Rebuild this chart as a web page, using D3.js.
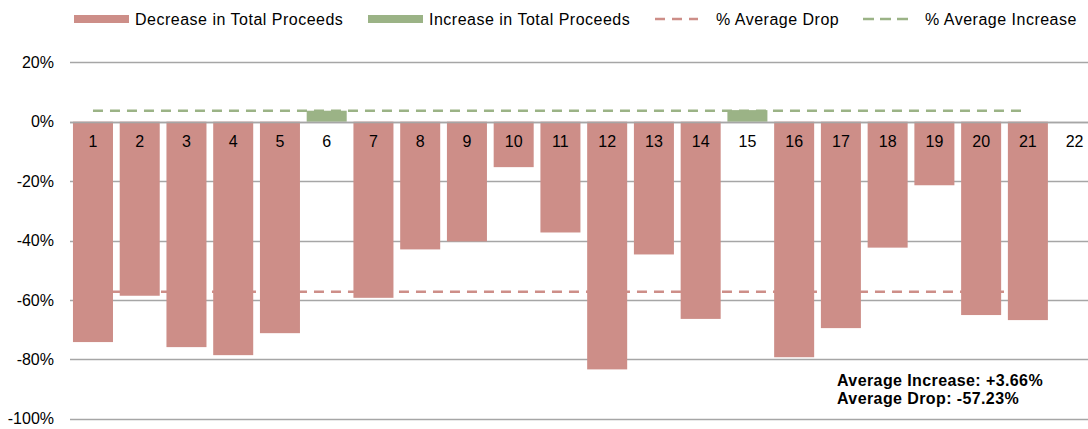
<!DOCTYPE html>
<html>
<head>
<meta charset="utf-8">
<script src="https://cdn.jsdelivr.net/npm/d3@7"></script>
<style>
  body { margin: 0; background: #fff; }
  text { font-family: "Liberation Sans", Arial, sans-serif; fill: #000; }
</style>
</head>
<body>
<script>
// chart values
var categories = ["1","2","3","4","5","6","7","8","9","10","11","12","13","14","15","16","17","18","19","20","21","22"];
var changes = [-74.2, -58.6, -75.9, -78.6, -71.2, 3.7, -59.3, -43.0, -40.3, -15.3, -37.3, -83.4, -44.7, -66.4, 3.9, -79.3, -69.5, -42.4, -21.4, -65.1, -66.8, 0];
var avgIncrease = 3.66;
var avgDrop = -57.23;
var yTicks = [20, 0, -20, -40, -60, -80, -100];
var legendItems = ["Decrease in Total Proceeds", "Increase in Total Proceeds", "% Average Drop", "% Average Increase"];

var width = 1088,
    height = 429;

var red = "#cd8e88",
    green = "#9bb386";

var svg = d3.select("body")
    .append("svg")
    .attr("width", width)
    .attr("height", height);

// x band scale - the plot runs a bit past the right edge of the picture
var x = d3.scaleBand()
    .domain(categories)
    .range([69.6, 1098])
    .paddingInner(0.144)
    .paddingOuter(0.072);

var y = d3.scaleLinear()
    .domain([-100, 20])
    .range([418.7, 62.3]);

// gridlines
svg.append("g")
    .selectAll("line")
    .data(yTicks)
    .enter().append("line")
    .attr("x1", 70)
    .attr("x2", width)
    .attr("y1", function(d) { return Math.round(y(d)) + 0.5; })
    .attr("y2", function(d) { return Math.round(y(d)) + 0.5; })
    .attr("stroke", "#a6a6a6")
    .attr("stroke-width", 1.3);

// average drop line sits behind the bars
var lineX1 = x(categories[0]) + x.bandwidth() / 2,
    lineX2 = x(categories[20]) + x.bandwidth() / 2;

svg.append("line")
    .attr("x1", lineX1).attr("x2", lineX2)
    .attr("y1", y(avgDrop)).attr("y2", y(avgDrop))
    .attr("stroke", red)
    .attr("stroke-width", 2.5)
    .attr("stroke-dasharray", "10,7");

// y tick labels
svg.append("g")
    .selectAll("text")
    .data(yTicks)
    .enter().append("text")
    .attr("x", 54)
    .attr("y", function(d) { return y(d); })
    .attr("dy", "0.35em")
    .attr("text-anchor", "end")
    .style("font-size", "16px")
    .text(function(d) { return d + "%"; });

// bars
svg.append("g")
    .selectAll("rect")
    .data(changes)
    .enter().append("rect")
    .attr("x", function(d, i) { return x(categories[i]); })
    .attr("width", x.bandwidth())
    .attr("y", function(d) { return y(Math.max(0, d)); })
    .attr("height", function(d) { return Math.abs(y(d) - y(0)); })
    .attr("fill", function(d) { return d < 0 ? red : green; });

svg.append("line")
    .attr("x1", lineX1).attr("x2", lineX2)
    .attr("y1", y(avgIncrease)).attr("y2", y(avgIncrease))
    .attr("stroke", green)
    .attr("stroke-width", 2.5)
    .attr("stroke-dasharray", "10,7");

// redraw the zero axis line on top of the bars
svg.append("line")
    .attr("x1", 70).attr("x2", width)
    .attr("y1", Math.round(y(0)) + 0.5).attr("y2", Math.round(y(0)) + 0.5)
    .attr("stroke", "#a6a6a6")
    .attr("stroke-width", 1.3);

// category labels inside the plot
svg.append("g")
    .selectAll("text")
    .data(categories)
    .enter().append("text")
    .attr("x", function(d) { return x(d) + x.bandwidth() / 2; })
    .attr("y", y(0) + 20)
    .attr("dy", "0.35em")
    .attr("text-anchor", "middle")
    .style("font-size", "16px")
    .text(function(d) { return d; });

// legend
var legend = svg.append("g").attr("class", "legend");
var legendPos = [74, 368, 655, 863];
var textPos = [135, 429, 716, 925];

legend.append("rect").attr("x", legendPos[0]).attr("y", 15).attr("width", 55).attr("height", 8).attr("fill", red);
legend.append("rect").attr("x", legendPos[1]).attr("y", 15).attr("width", 55).attr("height", 8).attr("fill", green);
legend.append("line").attr("x1", legendPos[2]).attr("x2", legendPos[2] + 43).attr("y1", 19).attr("y2", 19)
    .attr("stroke", red).attr("stroke-width", 2.5).attr("stroke-dasharray", "10,7");
legend.append("line").attr("x1", legendPos[3]).attr("x2", legendPos[3] + 51).attr("y1", 19).attr("y2", 19)
    .attr("stroke", green).attr("stroke-width", 2.5).attr("stroke-dasharray", "11,6");

legend.selectAll("text")
    .data(legendItems)
    .enter().append("text")
    .attr("x", function(d, i) { return textPos[i]; })
    .attr("y", 19)
    .attr("dy", "0.35em")
    .style("font-size", "16px")
    .style("letter-spacing", "0.5px")
    .text(function(d) { return d; });

// annotation
var note = svg.append("g").style("font-size", "16px").style("font-weight", "bold").style("letter-spacing", "0.4px");
note.append("text").attr("x", 837).attr("y", 386).text("Average Increase:  +" + avgIncrease.toFixed(2) + "%");
note.append("text").attr("x", 837).attr("y", 404).text("Average Drop:  " + avgDrop.toFixed(2) + "%");
</script>
</body>
</html>
